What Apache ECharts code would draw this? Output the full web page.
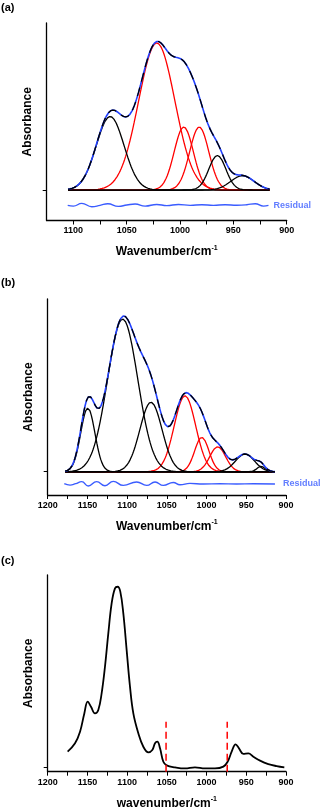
<!DOCTYPE html>
<html>
<head>
<meta charset="utf-8">
<script src="https://cdn.jsdelivr.net/npm/echarts@6/dist/echarts.min.js"></script>
<style>
  html, body { margin: 0; padding: 0; background: #fff; }
  #main { width: 323px; height: 810px; }
</style>
</head>
<body>
<div id="main"></div>
<script>
// fitted bands, each [centre (cm-1), height, sigma (cm-1)]
const blackBandsA = [[1065.5, 0.49, 13], [965, 0.23, 8], [941.5, 0.095, 11]];
const redBandsA = [[1021.8, 0.98, 17], [996.5, 0.42, 9], [982, 0.42, 9]];
const rangeA = [1105, 916];
const residualA = [
  [1105.3, -0.102], [1100, -0.107], [1092.1, -0.089], [1082.7, -0.111], [1075, -0.102],
  [1067.7, -0.091], [1057.8, -0.109], [1049.9, -0.1], [1042.1, -0.093], [1032.7, -0.107],
  [1021.8, -0.096], [1012.4, -0.104], [1001.5, -0.096], [990.5, -0.102], [979.6, -0.098],
  [968.7, -0.102], [957.7, -0.098], [946.7, -0.101], [937.4, -0.098], [929.5, -0.091],
  [921.8, -0.107], [917.1, -0.102]
];

const blackBandsB = [[1149.5, 0.41, 9], [1105.6, 0.985, 19], [1070, 0.448, 14], [951.6, 0.114, 12], [931.5, 0.035, 5]];
const redBandsB = [[1027.2, 0.49, 13.5], [1006, 0.222, 9], [986, 0.161, 10]];
const rangeB = [1178, 914];
const residualB = [
  [1179.1, -0.077], [1171.9, -0.086], [1164.8, -0.077], [1157.2, -0.064], [1148.9, -0.092],
  [1138.3, -0.064], [1127.9, -0.09], [1117.4, -0.062], [1104.8, -0.088], [1088, -0.066],
  [1075.4, -0.088], [1064.9, -0.066], [1054.4, -0.088], [1041.9, -0.069], [1033.5, -0.084],
  [1020.9, -0.075], [1004.1, -0.079], [983.1, -0.077], [962.1, -0.079], [941.2, -0.077],
  [913.9, -0.079]
];

const spectrumC = [
  [1174.9, 0.089], [1165.6, 0.135], [1159.3, 0.199], [1153.9, 0.3], [1149.7, 0.365],
  [1145.5, 0.337], [1140.5, 0.3], [1136.3, 0.319], [1132.1, 0.411], [1127.9, 0.558],
  [1123.7, 0.742], [1119.5, 0.908], [1115.3, 0.991], [1111.9, 1.0], [1108.6, 0.973],
  [1104.8, 0.853], [1100.6, 0.65], [1096.4, 0.448], [1092.2, 0.3], [1085.9, 0.19],
  [1079.6, 0.116], [1073.3, 0.085], [1068.3, 0.098], [1064.9, 0.135], [1062, 0.144],
  [1058.6, 0.107], [1054.4, 0.033], [1050.2, 0.013], [1039.7, 0.002], [1027.2, -0.004],
  [1014.6, 0.002], [1002, -0.004], [989.4, -0.004], [978.9, 0.006], [973.5, 0.033],
  [968.4, 0.089], [963.4, 0.129], [959.2, 0.107], [953.7, 0.076], [947.4, 0.079],
  [941.1, 0.061], [932.7, 0.039], [922.3, 0.02], [911.8, 0.009], [902.1, 0.002]
];
const cutLinesC = [1051, 974];
const cutTopC = 0.254;

const tickValuesA = [900, 925, 950, 975, 1000, 1025, 1050, 1075, 1100];
const labelValuesA = [900, 950, 1000, 1050, 1100];
const tickValuesBC = [900, 925, 950, 975, 1000, 1025, 1050, 1075, 1100, 1125, 1150, 1175, 1200];
const labelValuesBC = [900, 950, 1000, 1050, 1100, 1150, 1200];

const font = 'Liberation Sans, Arial, sans-serif';
const blue = '#2140ff';
const resBlue = '#3a5cff';

function bandAt(b, x) {
  return b[1] * Math.exp(-Math.pow(x - b[0], 2) / (2 * b[2] * b[2]));
}
function bandCurve(b, range) {
  const pts = [];
  for (let x = range[0]; x >= range[1]; x -= 1) pts.push([x, +bandAt(b, x).toFixed(4)]);
  return pts;
}
function fitCurve(bands, range) {
  const pts = [];
  for (let x = range[0]; x >= range[1]; x -= 1) {
    let s = 0;
    bands.forEach(b => { s += bandAt(b, x); });
    pts.push([x, +s.toFixed(4)]);
  }
  return pts;
}

function xAxisFor(i, max, ticks, labels, name) {
  return {
    type: 'value', gridIndex: i, inverse: true, min: 900, max: max,
    name: name + '/cm{sup|-1}', nameLocation: 'middle', nameGap: 24,
    nameTextStyle: {
      fontFamily: font, fontWeight: 'bold', fontSize: 12, color: '#000',
      rich: { sup: { fontFamily: font, fontWeight: 'bold', fontSize: 7, color: '#000', padding: [0, 0, 8, 0] } }
    },
    axisLine: { onZero: false, lineStyle: { color: '#000', width: 1.3 } },
    axisTick: { show: true, customValues: ticks, length: 4, lineStyle: { color: '#000', width: 1 } },
    axisLabel: {
      customValues: labels, formatter: v => String(v),
      fontFamily: font, fontWeight: 'bold', fontSize: 9, color: '#000', margin: 6
    },
    splitLine: { show: false }
  };
}
function yAxisFor(i, min, max) {
  return {
    type: 'value', gridIndex: i, min: min, max: max,
    name: 'Absorbance', nameLocation: 'middle', nameRotate: 90, nameGap: 13,
    nameTextStyle: { fontFamily: font, fontWeight: 'bold', fontSize: 12, color: '#000' },
    axisLine: { show: true, onZero: false, lineStyle: { color: '#000', width: 1.3 } },
    axisTick: { show: true, customValues: [0], length: 4, lineStyle: { color: '#000', width: 1 } },
    axisLabel: { show: false },
    splitLine: { show: false }
  };
}

function bandSeries(bands, range, color, i, z) {
  return bands.map(b => ({
    type: 'line', xAxisIndex: i, yAxisIndex: i, data: bandCurve(b, range),
    showSymbol: false, lineStyle: { color: color, width: 1.3 }, z: z
  }));
}
function envelopeSeries(bands, range, i) {
  const d = fitCurve(bands, range);
  return [
    { type: 'line', xAxisIndex: i, yAxisIndex: i, data: d, showSymbol: false,
      lineStyle: { color: blue, width: 1.6 }, z: 4 },
    { type: 'line', xAxisIndex: i, yAxisIndex: i, data: d, showSymbol: false,
      lineStyle: { color: '#000', width: 1.3, type: [9, 6] }, z: 5 }
  ];
}
function residualSeries(data, i, dist) {
  return [{
    type: 'line', xAxisIndex: i, yAxisIndex: i, data: data, smooth: true, showSymbol: false,
    lineStyle: { color: resBlue, width: 1.4 }
  }, {
    type: 'scatter', xAxisIndex: i, yAxisIndex: i, data: [data[data.length - 1]], symbolSize: 0,
    label: { show: true, position: 'right', distance: dist, formatter: 'Residual', color: resBlue,
      fontFamily: font, fontWeight: 'bold', fontSize: 9 }
  }];
}

const series = []
  .concat(bandSeries(redBandsA, rangeA, '#ff0000', 0, 2))
  .concat(bandSeries(blackBandsA, rangeA, '#000', 0, 3))
  .concat(envelopeSeries(blackBandsA.concat(redBandsA), rangeA, 0))
  .concat(residualSeries(residualA, 0, 5))
  .concat(bandSeries(redBandsB, rangeB, '#ff0000', 1, 2))
  .concat(bandSeries(blackBandsB, rangeB, '#000', 1, 3))
  .concat(envelopeSeries(blackBandsB.concat(redBandsB), rangeB, 1))
  .concat(residualSeries(residualB, 1, 8))
  .concat([{
    type: 'line', xAxisIndex: 2, yAxisIndex: 2, data: spectrumC, smooth: 0.4, showSymbol: false,
    lineStyle: { color: '#000', width: 1.8 }
  }])
  .concat(cutLinesC.map(w => ({
    type: 'line', xAxisIndex: 2, yAxisIndex: 2, data: [[w, -0.022], [w, cutTopC]], showSymbol: false,
    clip: false, lineStyle: { color: '#ff0000', width: 1.5, type: [7, 4] }
  })));

const chart = echarts.init(document.getElementById('main'));
chart.setOption({
  animation: false,
  backgroundColor: '#fff',
  title: [
    { text: '(a)', left: 1, top: 2, padding: 0, textStyle: { fontFamily: font, fontWeight: 'bold', fontSize: 11, color: '#000' } },
    { text: '(b)', left: 1, top: 277, padding: 0, textStyle: { fontFamily: font, fontWeight: 'bold', fontSize: 11, color: '#000' } },
    { text: '(c)', left: 1, top: 555, padding: 0, textStyle: { fontFamily: font, fontWeight: 'bold', fontSize: 11, color: '#000' } }
  ],
  grid: [
    { left: 46.7, top: 23, width: 240, height: 197.5, outerBoundsMode: 'none' },
    { left: 47.7, top: 299, width: 238.3, height: 196, outerBoundsMode: 'none' },
    { left: 47.7, top: 575, width: 238.3, height: 196.7, outerBoundsMode: 'none' }
  ],
  xAxis: [
    xAxisFor(0, 1125, tickValuesA, labelValuesA, 'Wavenumber'),
    xAxisFor(1, 1200, tickValuesBC, labelValuesBC, 'Wavenumber'),
    xAxisFor(2, 1200, tickValuesBC, labelValuesBC, 'wavenumber')
  ],
  yAxis: [
    yAxisFor(0, -0.203, 1.113),
    yAxisFor(1, -0.15, 1.114),
    yAxisFor(2, -0.022, 1.065)
  ],
  series: series
});
</script>
</body>
</html>
